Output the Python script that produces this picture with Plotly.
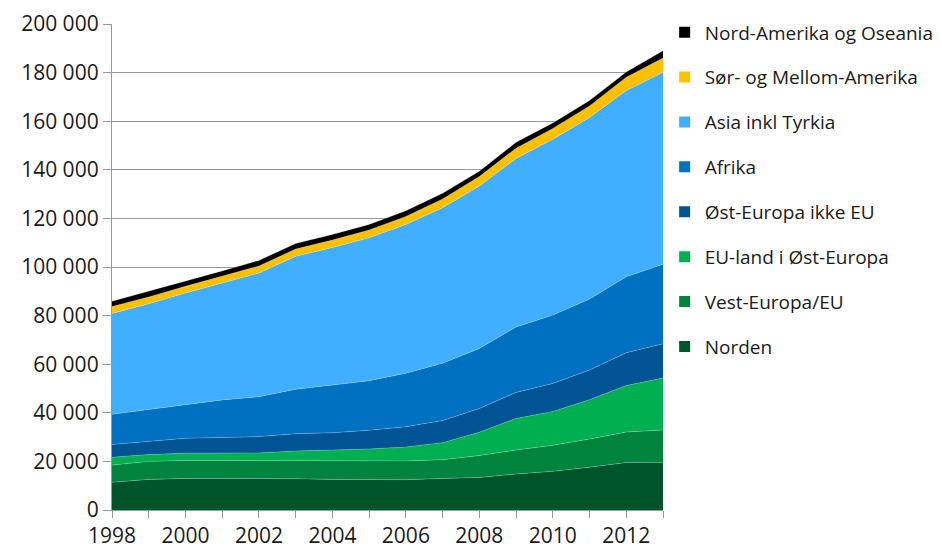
import plotly.graph_objects as go

years = list(range(1998, 2014))

norden = [11.4, 12.6, 13.0, 13.0, 12.9, 12.9, 12.6, 12.6, 12.5, 13.0, 13.4, 14.8, 15.9, 17.6, 19.5, 19.6]
vest_europa = [7.1, 7.4, 7.4, 7.4, 7.3, 7.5, 7.7, 7.7, 7.7, 7.7, 9.0, 9.9, 10.7, 11.6, 12.6, 13.3]
eu_ost = [3.2, 2.8, 3.0, 3.0, 3.3, 3.9, 4.3, 4.8, 5.7, 7.0, 9.6, 13.0, 13.9, 16.2, 19.1, 21.4]
ost_ikke_eu = [5.3, 5.6, 6.1, 6.4, 6.7, 7.1, 7.2, 7.7, 8.4, 9.1, 9.8, 10.7, 11.6, 12.2, 13.5, 14.1]
afrika = [12.4, 13.0, 14.1, 15.5, 16.4, 18.3, 19.6, 20.4, 22.0, 23.6, 24.7, 26.9, 28.1, 29.2, 31.3, 32.7]
asia = [41.5, 43.5, 45.7, 48.1, 50.9, 54.7, 56.6, 58.8, 61.2, 64.0, 66.8, 69.4, 72.4, 74.7, 76.6, 79.0]
sor_mellom = [2.8, 2.8, 2.8, 2.8, 2.9, 3.0, 3.1, 3.2, 3.3, 3.6, 3.9, 4.2, 4.4, 4.8, 5.5, 5.9]
nord_amerika = [2.2, 2.3, 2.3, 2.2, 2.3, 2.3, 2.3, 2.3, 2.3, 2.3, 2.2, 2.4, 2.3, 2.2, 2.1, 3.0]

series = [
    ("Norden", norden, "#00542A"),
    ("Vest-Europa/EU", vest_europa, "#00843D"),
    ("EU-land i Øst-Europa", eu_ost, "#00B050"),
    ("Øst-Europa ikke EU", ost_ikke_eu, "#005494"),
    ("Afrika", afrika, "#0070C0"),
    ("Asia inkl Tyrkia", asia, "#41AFFF"),
    ("Sør- og Mellom-Amerika", sor_mellom, "#FFC000"),
    ("Nord-Amerika og Oseania", nord_amerika, "#000000"),
]

fig = go.Figure()
for name, vals, color in series:
    fig.add_trace(go.Scatter(
        x=years, y=[v * 1000 for v in vals], name=name,
        mode="lines", stackgroup="one",
        line=dict(width=0.6, color="rgba(255,255,255,0.35)"),
        fillcolor=color, showlegend=False, hoverinfo="x+y+name",
    ))
# legend entries with square markers, top entry = top layer
for i, (name, vals, color) in enumerate(reversed(series)):
    fig.add_trace(go.Scatter(
        x=[None], y=[None], name=name, mode="markers",
        marker=dict(symbol="square", size=11, color=color),
        legendgroup="g%d" % i, showlegend=True,
    ))

fig.update_layout(
    width=926, height=542,
    margin=dict(l=104, r=271, t=16, b=40, autoexpand=False),
    paper_bgcolor="white", plot_bgcolor="white",
    font=dict(family="Open Sans", size=19, color="#1a1a1a"),
    separators=", ",
    showlegend=True,
    legend=dict(
        x=1.003, xanchor="left", y=1.022, yanchor="top",
        traceorder="grouped", tracegroupgap=17.2, maxheight=520,
        font=dict(family="Open Sans", size=19, color="#1a1a1a"),
        itemwidth=30, bgcolor="rgba(0,0,0,0)",
    ),
    xaxis=dict(
        range=[1998, 2013], dtick=2, tick0=1998,
        ticks="outside", ticklen=7, tickcolor="#999999", tickwidth=1.3,
        minor=dict(dtick=1, ticks="outside", ticklen=7, tickcolor="#999999", tickwidth=1.3),
        showline=True, linecolor="#999999", linewidth=1.3,
        showgrid=False, zeroline=False,
        tickfont=dict(size=21),
    ),
    yaxis=dict(
        range=[0, 200000], dtick=20000, tickformat=",d",
        ticks="outside", ticklen=8, tickcolor="#999999", tickwidth=1.3,
        showline=True, linecolor="#999999", linewidth=1.3,
        showgrid=True, gridcolor="#999999", gridwidth=1.3,
        zeroline=False, tickfont=dict(size=21),
    ),
)

fig.write_html("out.html")
